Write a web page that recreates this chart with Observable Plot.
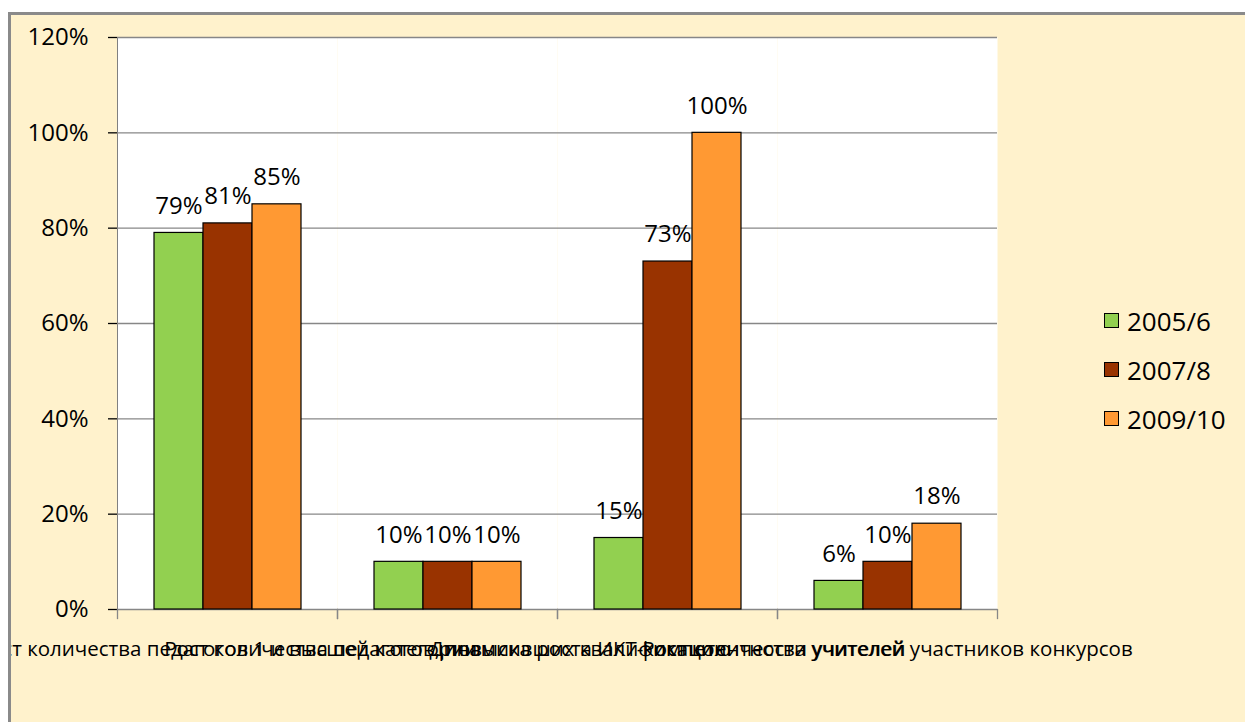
<!DOCTYPE html>
<html>
<head>
<meta charset="utf-8">
<script src="https://cdn.jsdelivr.net/npm/d3@7"></script>
<script src="https://cdn.jsdelivr.net/npm/@observablehq/plot@0.6"></script>
<style>
  html, body { margin: 0; padding: 0; background: #ffffff; width: 1245px; height: 722px; overflow: hidden; }
  #panel { position: absolute; left: 8px; top: 12px; width: 1245px; height: 722px; background: #fff2cc;
           border-top: 3px solid #8a8a8a; border-left: 3px solid #8a8a8a; }
  #chart { position: absolute; left: 0; top: 0; clip-path: inset(15px 0 0 11px); }
  #legend { position: absolute; left: 1104px; top: 296px; font-family: "Open Sans", sans-serif; font-size: 26px; color: #000; }
  .item { display: flex; align-items: center; height: 49px; }
  .sw { width: 15px; height: 15px; border: 1.5px solid #000; margin-right: 8px; box-sizing: border-box; }
</style>
</head>
<body>
<div id="panel"></div>
<div id="chart"></div>
<div id="legend"></div>
<script>
const categories = [
  "Рост количества педагогов 1 и высшей категории",
  "Рост количества педагогов, повысивших квалификацию",
  "Динамика роста ИКТ-компетентности учителей",
  "Рост количества учителей участников конкурсов"
];
const years = ["2005/6", "2007/8", "2009/10"];
const values2005 = [0.79, 0.10, 0.15, 0.06];
const values2007 = [0.81, 0.10, 0.73, 0.10];
const values2009 = [0.85, 0.10, 1.00, 0.18];
const colors = ["#92d050", "#993300", "#ff9933"];
const yTicks = [0, 0.2, 0.4, 0.6, 0.8, 1.0, 1.2];

const series = [values2005, values2007, values2009];
const data = [];
categories.forEach((c, i) => years.forEach((y, j) => data.push({category: c, year: y, value: series[j][i]})));

const fmt = d3.format(".0%");

const chart = Plot.plot({
  width: 1245,
  height: 722,
  marginLeft: 117,
  marginRight: 248,
  marginTop: 37,
  marginBottom: 113,
  style: {fontFamily: "Open Sans, sans-serif", fontSize: "24px", color: "#000", background: "transparent", overflow: "visible"},
  fx: {domain: categories, padding: 0, label: null, axis: null},
  x: {domain: years, paddingInner: 0, paddingOuter: 0.7, axis: null},
  y: {domain: [0, 1.2], label: null, ticks: yTicks, tickFormat: fmt, tickSize: 9, tickPadding: 20, line: true},
  color: {domain: years, range: colors},
  marks: [
    Plot.frame({fill: "white", stroke: null}),
    Plot.ruleY(yTicks, {stroke: "#878787", strokeWidth: 1.3}),
    Plot.frame({anchor: "left", stroke: "#878787", strokeWidth: 1.3, insetTop: 572, insetBottom: -9}),
    Plot.frame({anchor: "right", stroke: "#878787", strokeWidth: 1.3, insetTop: 572, insetBottom: -9}),
    Plot.barY(data, {fx: "category", x: "year", y: "value", fill: "year", stroke: "#000", strokeWidth: 1.2}),
    Plot.text(data, {fx: "category", x: "year", y: "value", text: d => fmt(d.value), dy: -27, fontSize: 24, fill: "#000"}),
    Plot.axisFx({anchor: "bottom", tickSize: 0, tickPadding: 32, fontSize: 20.5, label: null})
  ]
});
document.getElementById("chart").appendChild(chart);

// color the y axis line and ticks gray
chart.querySelectorAll("[aria-label='y-axis tick'], [aria-label='y-axis line']").forEach(g => {
  g.setAttribute("stroke", "#878787");
  g.setAttribute("stroke-width", "1.3");
});

const legend = document.getElementById("legend");
years.forEach((y, i) => {
  const row = document.createElement("div");
  row.className = "item";
  const sw = document.createElement("div");
  sw.className = "sw";
  sw.style.background = colors[i];
  const t = document.createElement("span");
  t.textContent = y;
  row.appendChild(sw);
  row.appendChild(t);
  legend.appendChild(row);
});
</script>
</body>
</html>
